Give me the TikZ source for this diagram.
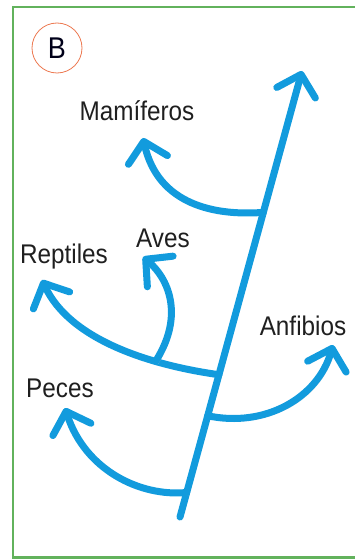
\documentclass[tikz,border=0pt]{standalone}
\usepackage{fontspec}
\newfontfamily\cladefont{Liberation Sans}[FakeStretch=0.9]
\usetikzlibrary{arrows.meta,calc}
\definecolor{cladeblue}{RGB}{18,155,221}
\definecolor{framegreen}{RGB}{98,178,92}
\definecolor{badgeorange}{RGB}{236,120,80}

\begin{document}
\begin{tikzpicture}[x=1pt,y=-1pt,
   branch/.style={cladeblue,line width=7pt,line cap=round,
     -{Straight Barb[length=19pt,width=40pt,round]},
     preaction={draw=black!22,opacity=0.5,
       transform canvas={xshift=2.5pt,yshift=-2.5pt}}},
   taxon/.style={inner sep=0pt,anchor=base,text=black!88,
     font=\cladefont\fontsize{27}{30}\selectfont}]
  \useasboundingbox (0,0) rectangle (354,559);
  \draw[framegreen,line width=2.4pt] (13,7) rectangle (370,557.5);
  % badge
  \node[circle,draw=badgeorange,line width=0.8pt,minimum size=50pt,inner sep=0pt,
    text=black!90!blue,font=\cladefont\fontsize{30}{32}\selectfont] (badge) at (57,48) {B};
  % trunk
  \coordinate (base) at (180,517);
  \coordinate (top) at (302,71);
  \coordinate (jPec) at ($(base)!0.055!(top)$);
  \coordinate (jAnf) at ($(base)!0.227!(top)$);
  \coordinate (jRep) at ($(base)!0.319!(top)$);
  \coordinate (jMam) at ($(base)!0.683!(top)$);
  \coordinate (tPec) at (65,408);
  \coordinate (tAnf) at (333,345);
  \coordinate (tRep) at (42,280);
  \coordinate (tAve) at (143,257);
  \coordinate (tMam) at (143,138);
  \draw[branch] (base) -- (top);
  \draw[branch] (jPec) .. controls (140,497) and (85,470) .. (tPec);
  \draw[branch] (jAnf) .. controls (265,428) and (318,398) .. (tAnf);
  \draw[branch] (jRep) .. controls (150,365) and (70,340) .. coordinate[pos=0.3] (jAve) (tRep);
  \draw[branch] (jAve) .. controls (185,315) and (168,278) .. (tAve);
  \draw[branch] (jMam) .. controls (215,216) and (158,205) .. (tMam);
  % labels
  \node[taxon] (mam) at (137,121) {Mamíferos};
  \node[taxon] (ave) at (163,247) {Aves};
  \node[taxon] (rep) at (64,263) {Reptiles};
  \node[taxon] (anf) at (303,335) {Anfibios};
  \node[taxon] (pec) at (60,397) {Peces};
\end{tikzpicture}
\end{document}
